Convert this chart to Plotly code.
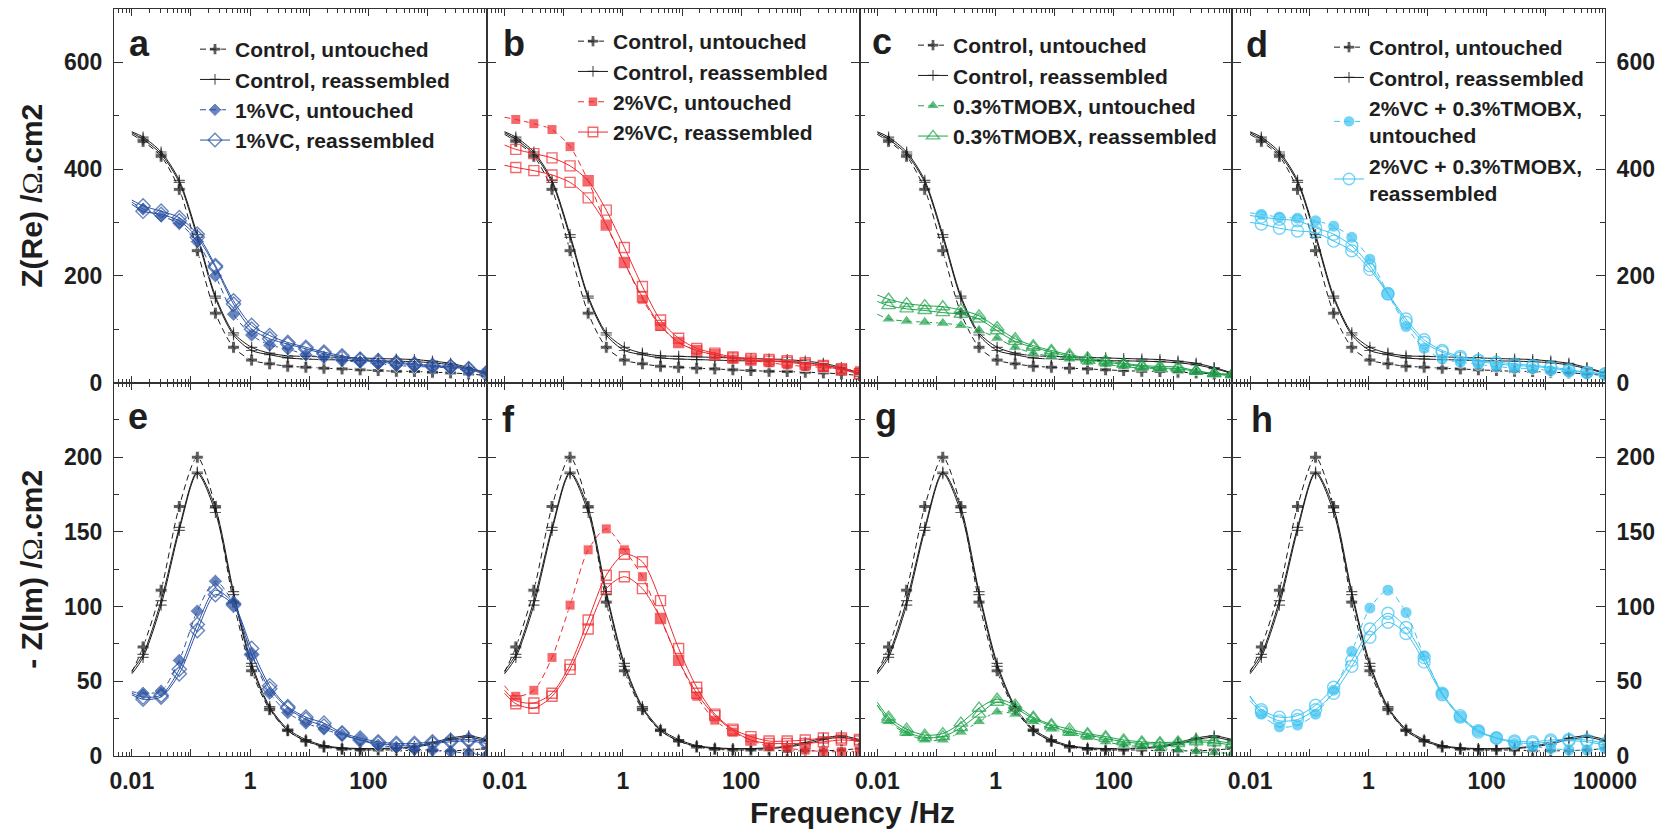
import math
import plotly.graph_objects as go

# Frequencies (Hz). The first entry (0.01 Hz) is the start of the fitted curve only;
# markers are drawn from the second entry onward.
FREQ = [0.01, 0.0155, 0.0313, 0.0634, 0.128, 0.259, 0.524, 1.06, 2.14, 4.33, 8.76,
        17.7, 35.8, 72.4, 146, 296, 599, 1210, 2450, 4950, 10000]

# ---- Control cell (shown in every panel) ----
ctrl_un_re = [465, 452, 424, 362, 247, 130, 66, 42, 35, 30.5, 28.7, 26.8, 25.5, 23.7, 22.4, 21, 20.6, 19.3, 18, 16, 13]
ctrl_ra1_re = [470, 460, 432, 379, 277, 162, 93, 66, 55, 50, 49, 48, 47, 46, 45, 44, 43, 40, 36, 28, 18]
ctrl_ra2_re = [468, 456, 428, 375, 272, 158, 89, 60, 52, 46, 44, 43, 42, 41, 40.5, 40, 39, 37, 33, 26, 17]
ctrl_un_im = [56, 73, 111, 167, 200, 167, 103, 57, 31, 17, 10, 6, 4.5, 4, 4, 4, 3.5, 3.5, 3.5, 4, 5]
ctrl_ra1_im = [57, 68, 104, 153, 190, 166, 110, 62, 33, 18, 11, 7, 5.5, 5, 5, 5.5, 6.5, 9, 12, 13.5, 11]
ctrl_ra2_im = [55, 66, 101, 151, 189, 163, 108, 60, 32, 17, 10, 6.5, 5, 4.8, 4.8, 5, 6, 8, 11, 12.5, 10]

# ---- 1%VC ----
vc1_un_re = [338, 325, 312, 298, 264, 200, 128, 89, 70, 63, 52, 47, 41, 38, 35, 32, 30, 29, 27, 22, 21]
vc1_ra1_re = [342, 331, 321, 309, 278, 219, 153, 107, 88, 75, 66, 57, 50, 44, 41, 38, 35, 32, 30, 26, 19]
vc1_ra2_re = [334, 321, 315, 303, 272, 216, 147, 100, 82, 72, 63, 54, 47, 42, 38, 36, 33, 30, 29, 24, 15]
vc1_un_im = [43, 42, 43.5, 64, 97, 117, 102, 68, 42, 29, 22, 18, 14, 10.7, 7.3, 5.8, 4.4, 4, 2.9, 1.8, 0.5]
vc1_ra1_im = [42, 39.5, 40.7, 58, 88, 111, 102, 72, 47, 33, 26, 22, 15.5, 12, 9.5, 8.4, 8.4, 9.5, 10.5, 11, 9.5]
vc1_ra2_im = [41, 38, 39.5, 55, 84, 108, 101, 68, 45, 32, 24.5, 20, 14.7, 10.7, 8.4, 7.3, 7.3, 8.4, 9.5, 10, 8.4]

# ---- 2%VC ----
vc2_un_re = [497, 493, 485, 474, 442, 378, 295, 225, 156, 105, 75, 60, 52, 44, 41, 37, 33, 30, 28, 25, 22]
vc2_ra1_re = [445, 437, 429, 421, 406, 378, 323, 253, 180, 117, 83, 64, 55, 48, 45, 43, 41, 37, 32, 26, 17]
vc2_ra2_re = [407, 403, 397, 389, 375, 346, 295, 225, 160, 107, 75, 60, 52, 46, 42, 40, 38, 34, 30, 24, 16]
vc2_un_im = [47, 40, 44, 66, 101, 138, 152, 138, 120, 92, 64, 40, 24, 16, 10.7, 6.2, 5, 4, 2.9, 2.9, 2.9]
vc2_ra1_im = [44, 37, 35.5, 42, 61, 91, 121, 135, 130, 104, 72, 46, 28, 18, 13, 10, 10, 10.7, 12, 12, 11]
vc2_ra2_im = [42, 35, 32, 40, 58, 85, 112, 120, 112, 92, 64, 42, 27, 17, 10.7, 8.4, 8.4, 8.4, 9.5, 10.7, 10]

# ---- 0.3%TMOBX ----
tm_un_re = [128, 119, 115, 113, 111, 107, 98, 83, 66, 55, 49, 44, 38, 34, 30, 27, 26, 22, 19, 16, 13]
tm_ra1_re = [164, 156, 148, 144, 142, 136, 125, 103, 82, 69, 60, 52, 46, 41, 36, 32, 30, 29, 22, 17, 15]
tm_ra2_re = [152, 144, 138, 135, 131, 128, 119, 97, 77, 66, 57, 49, 42, 38, 34, 30, 27, 26, 21, 17, 15]
tm_un_im = [34, 23, 15, 10.7, 10.7, 16, 23, 29.5, 28, 23, 18, 15, 12.4, 9.5, 7.3, 6.2, 5, 4, 2.9, 2.2, 1.8]
tm_ra1_im = [36, 26, 18, 14, 15, 22, 32, 38, 34, 26, 21, 18, 15, 13, 10.7, 9.5, 8.9, 9.5, 10.7, 10.2, 8.4]
tm_ra2_im = [34, 24.4, 16, 12.4, 13, 19, 28, 36, 32, 25, 20, 16, 14, 11.8, 9.5, 8.4, 8, 8.4, 9.5, 8.9, 7.3]

# ---- 2%VC + 0.3%TMOBX ----
mix_un_re = [318, 315, 310, 308, 303, 293, 272, 231, 167, 105, 64, 44, 38, 34, 30, 27, 26, 22, 20.5, 17, 15]
mix_ra1_re = [313, 310, 306, 303, 290, 278, 256, 219, 167, 119, 80, 60, 49, 42, 38, 35, 32, 29, 24, 19, 16]
mix_ra2_re = [300, 297, 289, 284, 281, 265, 247, 212, 166, 113, 75, 57, 46, 40, 35, 32, 30, 27, 22, 19, 16]
mix_un_im = [40, 28, 19.5, 20.7, 28, 44, 70, 99, 111, 96, 67, 42, 26, 17, 12, 8.4, 6.2, 5, 4, 4, 5]
mix_ra1_im = [40, 31, 26, 27, 34, 46, 64, 85, 95.5, 86, 66, 42, 27, 17, 12, 10, 9.5, 10.7, 11, 10.7, 8.4]
mix_ra2_im = [37, 29.5, 23.5, 24.4, 31, 42, 60, 79.5, 89.5, 82, 63, 41, 26, 16, 12, 9, 8.4, 9.5, 10.2, 9.5, 7.3]

PANEL_LETTERS = ["a", "b", "c", "d", "e", "f", "g", "h"]
X_TICKS = [0.01, 0.1, 1, 10, 100, 1000, 10000]
X_TICKTEXT = ["0.01", "", "1", "", "100", "", ""]
X_TICKTEXT_LAST = ["0.01", "", "1", "", "100", "", "10000"]

FONT = "Liberation Sans, Arial, sans-serif"
TXT = "#1e1e1e"
AX = "#333333"
BLACK = "#1a1a1a"
BLUE = "#2b52a3"
RED = "#ee2a2e"
GREEN = "#1ea24a"
CYAN = "#3cc3f2"
DASH = "6px,4px"

# Figure geometry (pixels)
W, H = 1665, 830
ML, MR, MT, MB = 114, 60, 9, 74
PW, PH = W - ML - MR, H - MT - MB


def px_x(px):
    return (px - ML) / PW


def px_y(py):
    return (H - MB - py) / PH


fig = go.Figure()


def ax_ids(p):
    n = "" if p == 0 else str(p + 1)
    return "x" + n, "y" + n


def add(p, y, name, color, symbol, size, dash, legend, show, open_w=None):
    xa, ya = ax_ids(p)
    marker = dict(symbol=symbol, size=[0] + [size] * (len(FREQ) - 1), color=color)
    if open_w is not None:
        marker["line"] = dict(color=color, width=open_w)
    fig.add_trace(go.Scatter(
        x=FREQ, y=y, xaxis=xa, yaxis=ya, mode="lines+markers", name=name,
        line=dict(color=color, width=1, dash=dash, shape="spline", smoothing=0.8),
        marker=marker, legend=legend, showlegend=show, hoverinfo="skip"))


groups = [
    ("1%VC", BLUE, "diamond", "diamond-open", 11,
     (vc1_un_re, vc1_ra1_re, vc1_ra2_re), (vc1_un_im, vc1_ra1_im, vc1_ra2_im),
     "1%VC, untouched", "1%VC, reassembled"),
    ("2%VC", RED, "square", "square-open", 10,
     (vc2_un_re, vc2_ra1_re, vc2_ra2_re), (vc2_un_im, vc2_ra1_im, vc2_ra2_im),
     "2%VC, untouched", "2%VC, reassembled"),
    ("TMOBX", GREEN, "triangle-up", "triangle-up-open", 12,
     (tm_un_re, tm_ra1_re, tm_ra2_re), (tm_un_im, tm_ra1_im, tm_ra2_im),
     "0.3%TMOBX, untouched", "0.3%TMOBX, reassembled"),
    ("MIX", CYAN, "circle", "circle-open", 12,
     (mix_un_re, mix_ra1_re, mix_ra2_re), (mix_un_im, mix_ra1_im, mix_ra2_im),
     "2%VC + 0.3%TMOBX,<br>untouched", "2%VC + 0.3%TMOBX,<br>reassembled"),
]

for col, (key, color, sym_f, sym_o, msize, re_sets, im_sets, n_un, n_ra) in enumerate(groups):
    leg = "legend" if col == 0 else "legend%d" % (col + 1)
    for row, (ctrl, sets) in enumerate([((ctrl_un_re, ctrl_ra1_re, ctrl_ra2_re), re_sets),
                                        ((ctrl_un_im, ctrl_ra1_im, ctrl_ra2_im), im_sets)]):
        p = row * 4 + col
        show = row == 0
        add(p, ctrl[0], "Control, untouched", BLACK, "cross", 10, DASH, leg, show)
        add(p, ctrl[1], "Control, reassembled", BLACK, "cross-thin", 8, "solid", leg, show, open_w=1.2)
        add(p, ctrl[2], "Control, reassembled", BLACK, "cross-thin", 8, "solid", leg, False, open_w=1.2)
        add(p, sets[0], n_un, color, sym_f, msize, DASH, leg, show)
        add(p, sets[1], n_ra, color, sym_o, msize, "solid", leg, show, open_w=1.4)
        add(p, sets[2], n_ra, color, sym_o, msize, "solid", leg, False, open_w=1.4)

minor_x = [m * 10 ** e for e in range(-3, 4) for m in range(2, 10)]
minor_x = [v for v in minor_x if 0.005 <= v <= 10000]

tickfont = dict(family=FONT, size=23, color=TXT, weight="bold")
titlefont = dict(family=FONT, size=30, color=TXT, weight="bold")
OMEGA = "<span style='font-weight:normal;font-family:Liberation Serif'>\u03a9</span>"

layout = dict(
    width=W, height=H, margin=dict(l=ML, r=MR, t=MT, b=MB),
    paper_bgcolor="white", plot_bgcolor="white",
    font=dict(family=FONT, color=TXT),
    showlegend=True,
)

for p in range(8):
    row, col = divmod(p, 4)
    xa, ya = ax_ids(p)
    xkey = "xaxis" if p == 0 else "xaxis%d" % (p + 1)
    ykey = "yaxis" if p == 0 else "yaxis%d" % (p + 1)
    layout[xkey] = dict(
        type="log", range=[math.log10(0.005), 4], domain=[col / 4, (col + 1) / 4], anchor=ya,
        tickmode="array", tickvals=X_TICKS,
        ticktext=X_TICKTEXT_LAST if col == 3 else X_TICKTEXT,
        showticklabels=row == 1, ticks="inside", ticklen=7, tickwidth=1, tickcolor=AX,
        ticklabelstandoff=4,
        minor=dict(tickvals=minor_x, ticks="inside", ticklen=4, tickwidth=1, tickcolor=AX, showgrid=False),
        showline=True, linecolor=AX, linewidth=1, mirror="allticks",
        showgrid=False, zeroline=False, tickfont=tickfont, fixedrange=True,
    )
    if row == 0:
        yrange, yticks, ydt = [0, 700], [0, 200, 400, 600], 100
        ytitle = "Z(Re) /" + OMEGA + ".cm2"
    else:
        yrange, yticks, ydt = [0, 250], [0, 50, 100, 150, 200], 25
        ytitle = "- Z(Im) /" + OMEGA + ".cm2"
    ya_dict = dict(
        range=yrange, domain=[0.5, 1] if row == 0 else [0, 0.5], anchor=xa,
        tickmode="array", tickvals=yticks, showticklabels=col in (0, 3),
        side="right" if col == 3 else "left",
        ticks="inside", ticklen=9, tickwidth=1, tickcolor=AX, ticklabelstandoff=6,
        minor=dict(dtick=ydt, tick0=0, ticks="inside", ticklen=5, tickwidth=1, tickcolor=AX, showgrid=False),
        showline=True, linecolor=AX, linewidth=1, mirror="allticks",
        showgrid=False, zeroline=False, tickfont=tickfont, fixedrange=True,
    )
    if col == 0:
        ya_dict["title"] = dict(text=ytitle, font=titlefont, standoff=12)
    layout[ykey] = ya_dict

legend_pos = [(195, 29), (573, 21), (913, 25), (1329, 27)]
for i, (lx, ly) in enumerate(legend_pos):
    key = "legend" if i == 0 else "legend%d" % (i + 1)
    layout[key] = dict(
        x=px_x(lx), y=px_y(ly), xanchor="left", yanchor="top",
        bgcolor="rgba(0,0,0,0)", borderwidth=0, itemwidth=30,
        font=dict(family=FONT, size=21, color=TXT, weight="bold"),
        tracegroupgap=0, itemclick=False, itemdoubleclick=False,
    )

fig.update_layout(**layout)

letter_pos = [(139, 55), (514, 55), (882, 54), (1257, 56),
              (138, 428), (509, 432), (886, 428), (1262, 432)]
for letter, (lx, base) in zip(PANEL_LETTERS, letter_pos):
    fig.add_annotation(text=letter, x=px_x(lx), y=px_y(base - 12), xref="paper", yref="paper",
                       xanchor="center", yanchor="middle", showarrow=False,
                       font=dict(family=FONT, size=36, color=TXT, weight="bold"))

fig.add_annotation(text="Frequency /Hz", x=px_x(852), y=px_y(812), xref="paper", yref="paper",
                   xanchor="center", yanchor="middle", showarrow=False, font=titlefont)

fig.write_html("out.html")
